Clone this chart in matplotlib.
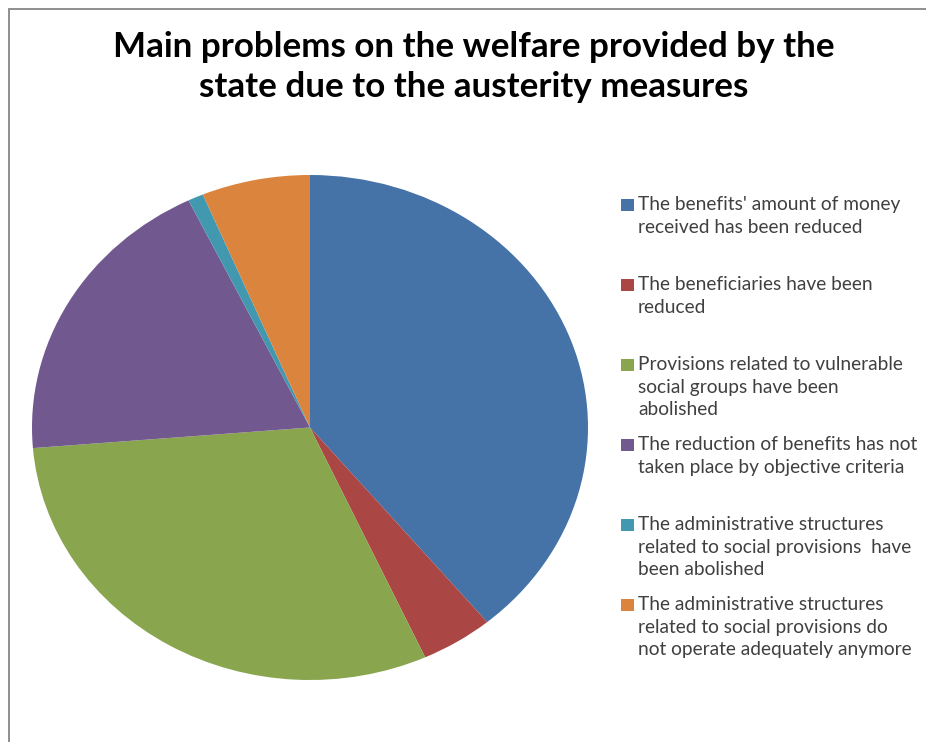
import matplotlib
matplotlib.use("Agg")
import matplotlib.pyplot as plt
from matplotlib.patches import Rectangle

# Survey answers, share of responses (%)
labels = [
    "The benefits' amount of money\nreceived has been reduced",
    "The beneficiaries have been\nreduced",
    "Provisions related to vulnerable\nsocial groups have been\nabolished",
    "The reduction of benefits has not\ntaken place by objective criteria",
    "The administrative structures\nrelated to social provisions  have\nbeen abolished",
    "The administrative structures\nrelated to social provisions do\nnot operate adequately anymore",
]
shares = [39.0, 4.2, 30.5, 19.1, 0.9, 6.3]
colors = ["#4572A7", "#AA4643", "#89A54E", "#71588F", "#4198AF", "#DB843D"]

W, H = 926, 742
fig = plt.figure(figsize=(W / 100, H / 100), dpi=100)

# outer frame (only top and left edges fall inside the canvas)
fig.patches.append(Rectangle((8.5 / W, -0.1), 1.2, (H - 8.5) / H + 0.1,
                             transform=fig.transFigure, fill=False,
                             edgecolor="#868686", linewidth=1.3))

fig.text(474 / W, 1 - 67 / H,
         "Main problems on the welfare provided by the\nstate due to the austerity measures",
         ha="center", va="center", fontsize=25.2, fontweight="bold",
         family="Lato", linespacing=1.3, color="black")

# pie is slightly squashed vertically, so let the axes stretch it
ax = fig.add_axes([32 / W, (H - 680) / H, 556 / W, 505 / H])
ax.pie(shares, colors=colors, startangle=90, counterclock=False,
       wedgeprops=dict(linewidth=0))
ax.set_aspect("auto")
ax.set_xlim(-1, 1)
ax.set_ylim(-1, 1)

# legend drawn by hand: square + wrapped label, fixed step per entry
for i, (lab, col) in enumerate(zip(labels, colors)):
    y = 205 + 80 * i
    fig.patches.append(Rectangle((621 / W, 1 - (y + 6.3) / H), 12.5 / W, 12.5 / H,
                                 transform=fig.transFigure, facecolor=col,
                                 edgecolor="none"))
    fig.text(638 / W, 1 - (y - 9) / H, lab, ha="left", va="top",
             fontsize=13.8, family="Lato", color="#404040", linespacing=1.4)

fig.savefig("out.png", dpi=100)
